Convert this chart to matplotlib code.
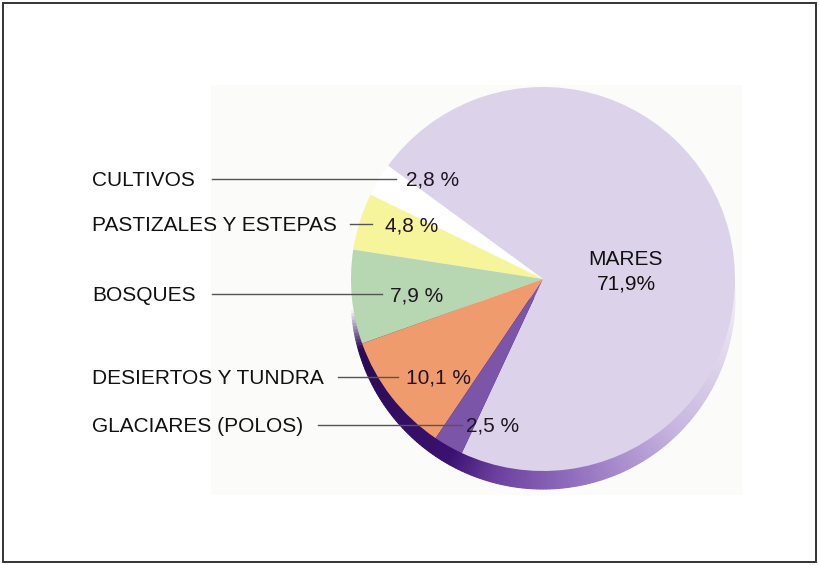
import numpy as np
import matplotlib
matplotlib.use("Agg")
import matplotlib.pyplot as plt
from matplotlib import colors
from matplotlib.patches import Rectangle, Wedge

# data
categories = ["MARES", "CULTIVOS", "PASTIZALES Y ESTEPAS", "BOSQUES",
              "DESIERTOS Y TUNDRA", "GLACIARES (POLOS)"]
values = [71.9, 2.8, 4.8, 7.9, 10.1, 2.5]
slice_colors = ["#dcd3ea", "#ffffff", "#f7f59c", "#b7d6b2", "#ef9b6d", "#7b55a8"]

W, H = 819, 565


def py(y):
    # pixel row (from top) -> data y
    return H - y


fig = plt.figure(figsize=(W / 100, H / 100), dpi=100)
ax = fig.add_axes([0, 0, 1, 1])
plt.rcParams["font.family"] = ["Liberation Sans", "DejaVu Sans"]

cx, cy, r = 543, py(279), 192
depth = 18

# light panel behind the pie
ax.add_patch(Rectangle((211, py(495)), 531, 410, facecolor="#fbfbfa", edgecolor="none", zorder=0))

# side of the disc (seen below the top face)
rim_stops = [(184, "#fbfbfa"), (196, "#2a0a52"), (240, "#3a1170"), (255, "#6a3f9e"),
             (285, "#9a79c4"), (315, "#c7b5df"), (345, "#e3dbee"), (365, "#f4f1f8")]
rim_angles = [a for a, _ in rim_stops]
rim_rgb = np.array([colors.to_rgb(c) for _, c in rim_stops])
for a in np.arange(184, 365, 1.0):
    col = [np.interp(a + 0.5, rim_angles, rim_rgb[:, k]) for k in range(3)]
    ax.add_patch(Wedge((cx, cy - depth), r, a, a + 1.0, facecolor=col, edgecolor=col,
                       linewidth=0.8, zorder=1))

ax.pie(values, colors=slice_colors, startangle=-115, counterclock=True,
       center=(cx, cy), radius=r, wedgeprops=dict(linewidth=0, zorder=2))

# labels on the left with leader lines
label_base = [186, 231, 301, 384, 432]
line_x = [(212, 396), (350, 372), (212, 382), (338, 398), (318, 462)]
pct_x = [406, 385, 390, 406, 466]
fs = 15
for name, v, yb, (x0, x1), px in zip(categories[1:], values[1:], label_base, line_x, pct_x):
    ax.text(92, py(yb), name, fontsize=fs, color="#111111", ha="left", va="baseline", zorder=5)
    ax.plot([x0, x1], [py(yb - 7), py(yb - 7)], color="#555555", lw=1.0, zorder=4)
    pct = f"{v:.1f}".replace(".", ",") + " %"
    ax.text(px, py(yb), pct, fontsize=fs, color="#221522", ha="left", va="baseline", zorder=5)

ax.text(626, py(265), categories[0], fontsize=fs, color="#111111", ha="center", va="baseline", zorder=5)
ax.text(626, py(289), f"{values[0]:.1f}".replace(".", ",") + "%", fontsize=fs,
        color="#111111", ha="center", va="baseline", zorder=5)

ax.set_xlim(0, W)
ax.set_ylim(0, H)
ax.set_aspect("equal")
ax.axis("off")

# frame
fig.patches.append(Rectangle((3 / W, 3 / H), 813 / W, 559 / H, transform=fig.transFigure,
                             fill=False, edgecolor="#333333", linewidth=1.4))

fig.savefig("out.png", dpi=100, facecolor="white")
